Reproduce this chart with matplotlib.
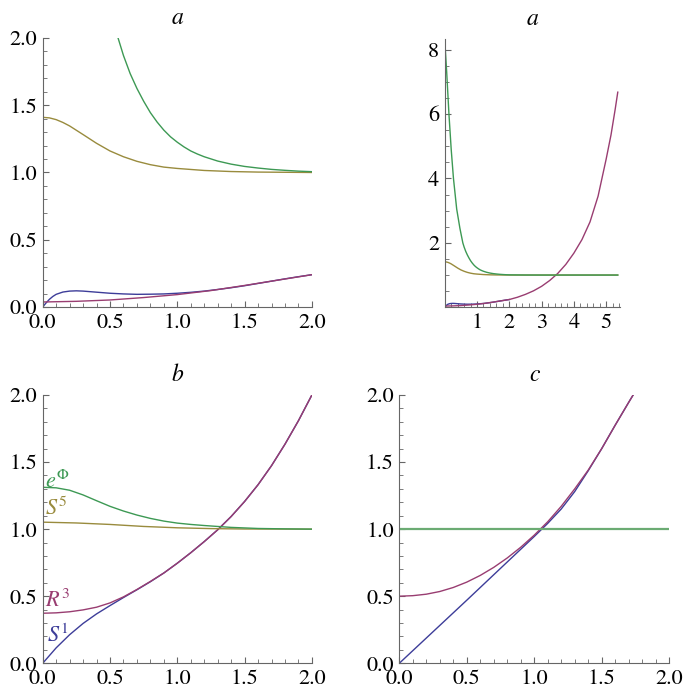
import matplotlib
matplotlib.use('Agg')
import matplotlib.pyplot as plt
from matplotlib.ticker import MultipleLocator, FormatStrFormatter

plt.rcParams['font.family'] = ['STIXGeneral', 'DejaVu Serif']
plt.rcParams['mathtext.fontset'] = 'stix'

# Mathematica-style default colours
BLUE = (0.24, 0.24, 0.6)
MAGENTA = (0.6, 0.24, 0.442)
OLIVE = (0.6, 0.547, 0.24)
GREEN = (0.24, 0.6, 0.33)

# ---- panel a (shown twice: zoomed and full range) ----
a_green_x = [0, 0.06, 0.13, 0.2, 0.27, 0.37, 0.47, 0.52, 0.56, 0.6, 0.65, 0.7, 0.75, 0.8, 0.85,
             0.9, 0.95, 1.0, 1.05, 1.1, 1.15, 1.2, 1.3, 1.4, 1.5, 1.6, 1.7, 1.8, 1.9, 2.0, 2.5,
             3.0, 4.0, 5.36]
a_green = [8.3, 7.3, 6.0, 4.9, 4.0, 3.05, 2.45, 2.2, 2.0, 1.87, 1.735, 1.625, 1.53, 1.445, 1.375,
           1.315, 1.265, 1.225, 1.19, 1.16, 1.137, 1.117, 1.085, 1.062, 1.045, 1.033, 1.023,
           1.016, 1.01, 1.006, 1.001, 1.0, 1.0, 1.0]

a_olive_x = [0, 0.05, 0.1, 0.15, 0.2, 0.25, 0.3, 0.4, 0.5, 0.6, 0.7, 0.8, 0.9, 1.0, 1.2, 1.4,
             1.6, 2.0, 5.36]
a_olive = [1.41, 1.406, 1.393, 1.372, 1.346, 1.314, 1.282, 1.217, 1.16, 1.117, 1.083, 1.058,
           1.04, 1.03, 1.015, 1.007, 1.003, 1.0, 1.0]

a_blue_x = [0, 0.025, 0.05, 0.075, 0.1, 0.15, 0.2, 0.25, 0.3, 0.4, 0.5, 0.6, 0.7, 0.8, 0.9,
            1.0, 1.1, 1.2, 1.3, 1.4, 1.5, 1.6, 1.7, 1.8, 1.9, 2.0]
a_blue = [0, 0.03, 0.057, 0.078, 0.094, 0.111, 0.118, 0.12, 0.118, 0.11, 0.102, 0.097, 0.094,
          0.095, 0.097, 0.102, 0.109, 0.118, 0.13, 0.143, 0.158, 0.175, 0.192, 0.209, 0.225, 0.24]

a_mag_x = [0, 0.25, 0.5, 0.75, 1.0, 1.25, 1.5, 1.75, 2.0, 2.25, 2.5, 2.75, 3.0, 3.25, 3.5, 3.75,
           4.0, 4.25, 4.5, 4.75, 5.0, 5.15, 5.28, 5.36]
a_mag = [0.037, 0.042, 0.052, 0.07, 0.092, 0.122, 0.16, 0.2, 0.24, 0.31, 0.4, 0.51, 0.65, 0.83,
         1.05, 1.33, 1.68, 2.1, 2.65, 3.45, 4.6, 5.35, 6.15, 6.68]

# ---- panel b ----
b_green_x = [0, 0.1, 0.2, 0.3, 0.4, 0.5, 0.6, 0.7, 0.8, 0.9, 1.0, 1.1, 1.2, 1.3, 1.4, 1.5, 1.6,
             1.8, 2.0]
b_green = [1.312, 1.308, 1.29, 1.255, 1.212, 1.17, 1.135, 1.105, 1.08, 1.06, 1.045, 1.035,
           1.027, 1.02, 1.013, 1.009, 1.005, 1.002, 1.0]

b_olive_x = [0, 0.25, 0.5, 0.75, 1.0, 1.25, 1.5, 2.0]
b_olive = [1.052, 1.046, 1.035, 1.02, 1.01, 1.004, 1.001, 1.0]

b_mag_x = [0, 0.1, 0.2, 0.3, 0.4, 0.5, 0.6, 0.7, 0.8, 0.9, 1.0, 1.1, 1.2, 1.3, 1.4, 1.5, 1.6,
           1.7, 1.8, 1.9, 2.0]
b_mag = [0.373, 0.376, 0.384, 0.398, 0.418, 0.45, 0.495, 0.55, 0.61, 0.673, 0.746, 0.824,
         0.907, 0.995, 1.094, 1.206, 1.331, 1.473, 1.633, 1.808, 2.0]

b_blue_x = [0, 0.1, 0.2, 0.3, 0.4, 0.5, 0.6, 0.7, 0.8, 0.9, 1.0, 1.1, 1.2, 1.3, 1.4, 1.5, 1.6,
            1.7, 1.8, 1.9, 2.0]
b_blue = [0, 0.115, 0.213, 0.297, 0.368, 0.43, 0.49, 0.548, 0.608, 0.673, 0.746, 0.824, 0.907,
          0.995, 1.094, 1.206, 1.331, 1.473, 1.633, 1.808, 2.0]

# ---- panel c ----
c_green_x = [0, 2.0]
c_green = [1.0, 1.0]

c_mag_x = [0, 0.1, 0.2, 0.3, 0.4, 0.5, 0.6, 0.7, 0.8, 0.9, 1.0, 1.1, 1.2, 1.3, 1.4, 1.5, 1.6,
           1.7, 1.733]
c_mag = [0.5, 0.504, 0.515, 0.535, 0.565, 0.605, 0.655, 0.715, 0.785, 0.865, 0.955, 1.055, 1.17,
         1.3, 1.44, 1.6, 1.775, 1.945, 2.0]

c_blue_x = [0, 0.1, 0.2, 0.3, 0.4, 0.5, 0.6, 0.7, 0.8, 0.9, 1.0, 1.1, 1.2, 1.3, 1.4, 1.5, 1.6,
            1.7, 1.733]
c_blue = [0, 0.094, 0.188, 0.282, 0.376, 0.47, 0.565, 0.66, 0.755, 0.85, 0.945, 1.043, 1.15,
          1.28, 1.435, 1.6, 1.775, 1.945, 2.0]

AX_COLOR = '#666666'
LW = 1.0


def style_axes(ax, xlim, ylim, xmaj, xmin, ymaj, ymin, fmt, hide_zero=False):
    ax.set_xlim(*xlim)
    ax.set_ylim(*ylim)
    for s in ('top', 'right'):
        ax.spines[s].set_visible(False)
    for s in ('left', 'bottom'):
        ax.spines[s].set_color(AX_COLOR)
        ax.spines[s].set_linewidth(0.8)
    ax.xaxis.set_major_locator(MultipleLocator(xmaj))
    ax.xaxis.set_minor_locator(MultipleLocator(xmin))
    ax.yaxis.set_major_locator(MultipleLocator(ymaj))
    ax.yaxis.set_minor_locator(MultipleLocator(ymin))
    ax.xaxis.set_major_formatter(FormatStrFormatter(fmt))
    ax.yaxis.set_major_formatter(FormatStrFormatter(fmt))
    ax.tick_params(which='major', direction='in', length=4.5, width=0.8, color=AX_COLOR,
                   labelsize=16, labelcolor='black', pad=4)
    ax.tick_params(axis='x', which='major', pad=4.5)
    ax.tick_params(which='minor', direction='in', length=2.6, width=0.6, color=AX_COLOR)
    if hide_zero:
        ax.set_xticks([t for t in ax.get_xticks() if 0 < t <= xlim[1]])
        ax.set_yticks([t for t in ax.get_yticks() if 0 < t <= ylim[1]])


fig = plt.figure(figsize=(6.92, 6.92), dpi=100)

# panel a, zoomed
ax1 = fig.add_axes([0.0617, 0.5564, 0.389, 0.3887])
ax1.plot(a_blue_x, a_blue, color=BLUE, lw=LW)
ax1.plot(a_mag_x, a_mag, color=MAGENTA, lw=LW)
ax1.plot(a_olive_x, a_olive, color=OLIVE, lw=LW)
ax1.plot(a_green_x, a_green, color=GREEN, lw=LW)
style_axes(ax1, (0, 2.0), (0, 2.0), 0.5, 0.1, 0.5, 0.1, '%.1f')
ax1.set_title('a', fontsize=17, style='italic', pad=10)

# panel a, full range
ax2 = fig.add_axes([0.6427, 0.556, 0.2533, 0.3876])
ax2.plot(a_blue_x, a_blue, color=BLUE, lw=LW)
ax2.plot(a_mag_x, a_mag, color=MAGENTA, lw=LW)
ax2.plot(a_olive_x, a_olive, color=OLIVE, lw=LW)
ax2.plot(a_green_x, a_green, color=GREEN, lw=LW)
style_axes(ax2, (0, 5.43), (0, 8.33), 1, 0.2, 2, 0.5, '%d', hide_zero=True)
ax2.set_title('a', fontsize=17, style='italic', pad=10)

# panel b
ax3 = fig.add_axes([0.0617, 0.0415, 0.389, 0.3877])
ax3.plot(b_blue_x, b_blue, color=BLUE, lw=LW)
ax3.plot(b_mag_x, b_mag, color=MAGENTA, lw=LW)
ax3.plot(b_olive_x, b_olive, color=OLIVE, lw=LW)
ax3.plot(b_green_x, b_green, color=GREEN, lw=LW)
style_axes(ax3, (0, 2.0), (0, 2.0), 0.5, 0.1, 0.5, 0.1, '%.1f')
ax3.set_title('b', fontsize=17, style='italic', pad=10)
ax3.text(0.017, 1.305, r'$e^{\Phi}$', color=GREEN, fontsize=16)
ax3.text(0.017, 1.105, r'$S^{5}$', color=OLIVE, fontsize=16)
ax3.text(0.017, 0.42, r'$R^{3}$', color=MAGENTA, fontsize=16)
ax3.text(0.03, 0.16, r'$S^{1}$', color=BLUE, fontsize=16)

# panel c
ax4 = fig.add_axes([0.577, 0.0415, 0.390, 0.3877])
ax4.plot(c_blue_x, c_blue, color=BLUE, lw=LW)
ax4.plot(c_mag_x, c_mag, color=MAGENTA, lw=LW)
ax4.plot(c_green_x, c_green, color=(0.42, 0.67, 0.45), lw=1.6)
style_axes(ax4, (0, 2.0), (0, 2.0), 0.5, 0.1, 0.5, 0.1, '%.1f')
ax4.set_title('c', fontsize=17, style='italic', pad=10)

fig.savefig('out.png', dpi=100)
